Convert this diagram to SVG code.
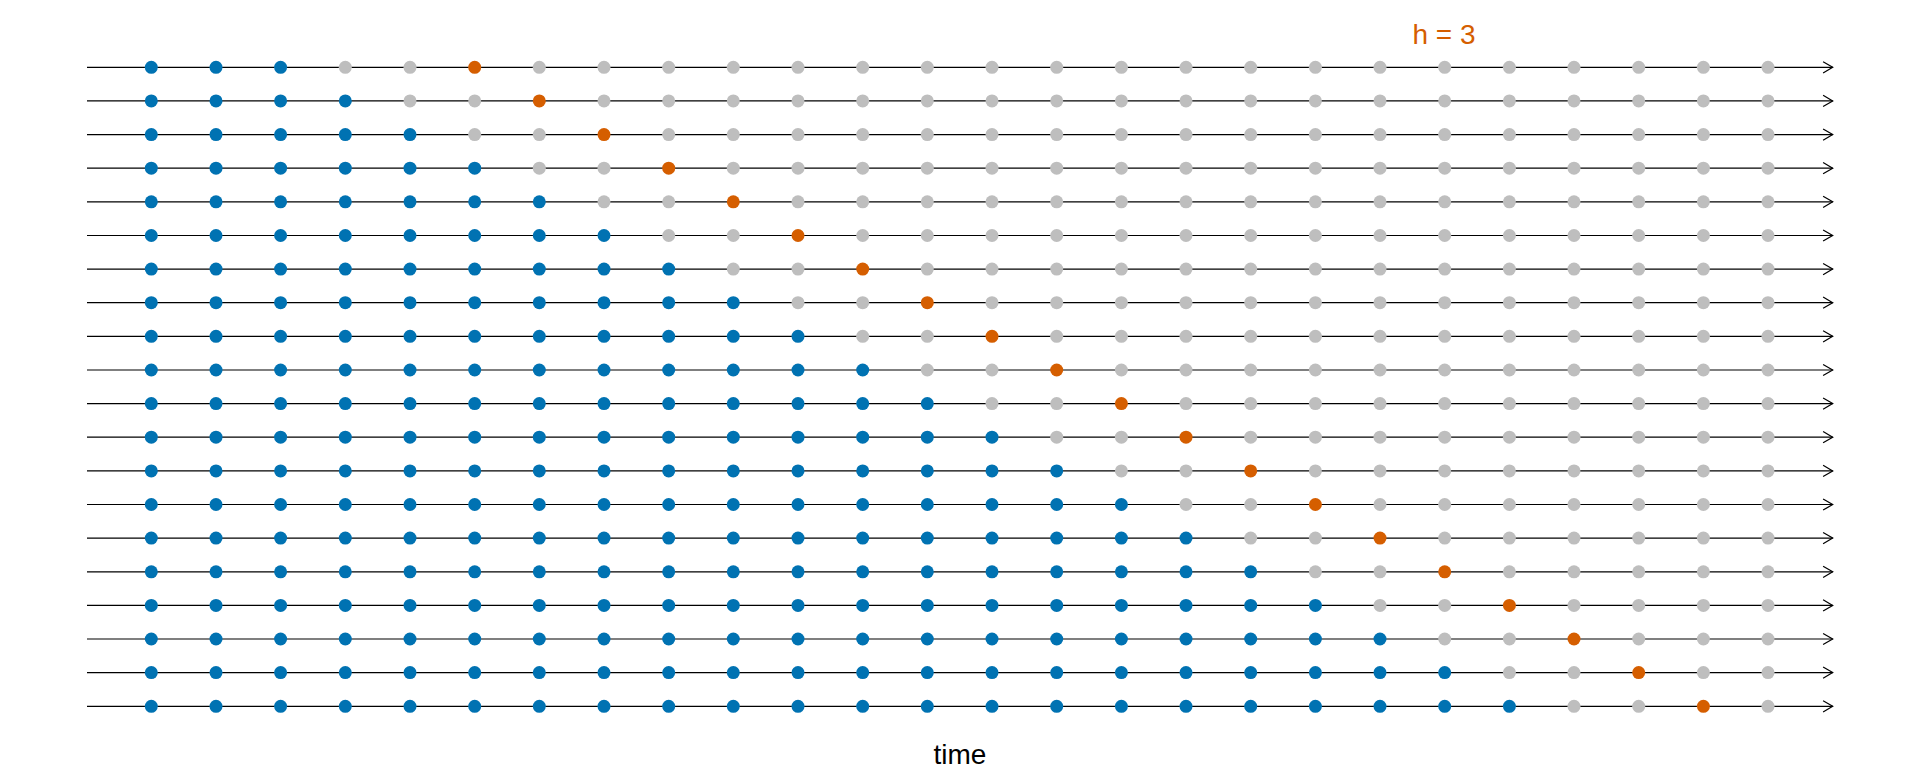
<svg xmlns="http://www.w3.org/2000/svg" width="1920" height="768" viewBox="0 0 1920 768">
<style>
.b{fill:#0072B2}
.g{fill:#BEBEBE}
.o{fill:#D55E00}
.ln{stroke:#000;stroke-width:1.2;fill:none;marker-end:url(#arr)}
.lbl{font-family:"Liberation Sans",Arial,sans-serif;font-size:28px;text-anchor:middle}
</style>
<defs>
<marker id="arr" markerUnits="userSpaceOnUse" markerWidth="14" markerHeight="16" viewBox="-12 -8 14 16" refX="0" refY="0" orient="auto">
<path d="M-9.6,-5.6 L0,0 L-9.6,5.6" fill="none" stroke="#000" stroke-width="1.2"/>
</marker>
</defs>
<rect width="1920" height="768" fill="#fff"/>
<g id="connectors">
<line class="ln" x1="87" y1="67.3" x2="1832.7" y2="67.3"/>
<line class="ln" x1="87" y1="100.9" x2="1832.7" y2="100.9"/>
<line class="ln" x1="87" y1="134.6" x2="1832.7" y2="134.6"/>
<line class="ln" x1="87" y1="168.2" x2="1832.7" y2="168.2"/>
<line class="ln" x1="87" y1="201.8" x2="1832.7" y2="201.8"/>
<line class="ln" x1="87" y1="235.5" x2="1832.7" y2="235.5"/>
<line class="ln" x1="87" y1="269.1" x2="1832.7" y2="269.1"/>
<line class="ln" x1="87" y1="302.7" x2="1832.7" y2="302.7"/>
<line class="ln" x1="87" y1="336.3" x2="1832.7" y2="336.3"/>
<line class="ln" x1="87" y1="370" x2="1832.7" y2="370"/>
<line class="ln" x1="87" y1="403.6" x2="1832.7" y2="403.6"/>
<line class="ln" x1="87" y1="437.2" x2="1832.7" y2="437.2"/>
<line class="ln" x1="87" y1="470.9" x2="1832.7" y2="470.9"/>
<line class="ln" x1="87" y1="504.5" x2="1832.7" y2="504.5"/>
<line class="ln" x1="87" y1="538.1" x2="1832.7" y2="538.1"/>
<line class="ln" x1="87" y1="571.8" x2="1832.7" y2="571.8"/>
<line class="ln" x1="87" y1="605.4" x2="1832.7" y2="605.4"/>
<line class="ln" x1="87" y1="639" x2="1832.7" y2="639"/>
<line class="ln" x1="87" y1="672.6" x2="1832.7" y2="672.6"/>
<line class="ln" x1="87" y1="706.3" x2="1832.7" y2="706.3"/>
</g>
<g id="row1" transform="translate(0,67.3)">
<circle class="b" cx="151.3" r="6.5"/><circle class="b" cx="216" r="6.5"/><circle class="b" cx="280.6" r="6.5"/><circle class="g" cx="345.3" r="6.5"/><circle class="g" cx="410" r="6.5"/><circle class="o" cx="474.7" r="6.5"/><circle class="g" cx="539.3" r="6.5"/><circle class="g" cx="604" r="6.5"/><circle class="g" cx="668.7" r="6.5"/><circle class="g" cx="733.3" r="6.5"/><circle class="g" cx="798" r="6.5"/><circle class="g" cx="862.7" r="6.5"/><circle class="g" cx="927.3" r="6.5"/><circle class="g" cx="992" r="6.5"/><circle class="g" cx="1056.7" r="6.5"/><circle class="g" cx="1121.4" r="6.5"/><circle class="g" cx="1186" r="6.5"/><circle class="g" cx="1250.7" r="6.5"/><circle class="g" cx="1315.4" r="6.5"/><circle class="g" cx="1380" r="6.5"/><circle class="g" cx="1444.7" r="6.5"/><circle class="g" cx="1509.4" r="6.5"/><circle class="g" cx="1574" r="6.5"/><circle class="g" cx="1638.7" r="6.5"/><circle class="g" cx="1703.4" r="6.5"/><circle class="g" cx="1768" r="6.5"/>
</g>
<g id="row2" transform="translate(0,100.9)">
<circle class="b" cx="151.3" r="6.5"/><circle class="b" cx="216" r="6.5"/><circle class="b" cx="280.6" r="6.5"/><circle class="b" cx="345.3" r="6.5"/><circle class="g" cx="410" r="6.5"/><circle class="g" cx="474.7" r="6.5"/><circle class="o" cx="539.3" r="6.5"/><circle class="g" cx="604" r="6.5"/><circle class="g" cx="668.7" r="6.5"/><circle class="g" cx="733.3" r="6.5"/><circle class="g" cx="798" r="6.5"/><circle class="g" cx="862.7" r="6.5"/><circle class="g" cx="927.3" r="6.5"/><circle class="g" cx="992" r="6.5"/><circle class="g" cx="1056.7" r="6.5"/><circle class="g" cx="1121.4" r="6.5"/><circle class="g" cx="1186" r="6.5"/><circle class="g" cx="1250.7" r="6.5"/><circle class="g" cx="1315.4" r="6.5"/><circle class="g" cx="1380" r="6.5"/><circle class="g" cx="1444.7" r="6.5"/><circle class="g" cx="1509.4" r="6.5"/><circle class="g" cx="1574" r="6.5"/><circle class="g" cx="1638.7" r="6.5"/><circle class="g" cx="1703.4" r="6.5"/><circle class="g" cx="1768" r="6.5"/>
</g>
<g id="row3" transform="translate(0,134.6)">
<circle class="b" cx="151.3" r="6.5"/><circle class="b" cx="216" r="6.5"/><circle class="b" cx="280.6" r="6.5"/><circle class="b" cx="345.3" r="6.5"/><circle class="b" cx="410" r="6.5"/><circle class="g" cx="474.7" r="6.5"/><circle class="g" cx="539.3" r="6.5"/><circle class="o" cx="604" r="6.5"/><circle class="g" cx="668.7" r="6.5"/><circle class="g" cx="733.3" r="6.5"/><circle class="g" cx="798" r="6.5"/><circle class="g" cx="862.7" r="6.5"/><circle class="g" cx="927.3" r="6.5"/><circle class="g" cx="992" r="6.5"/><circle class="g" cx="1056.7" r="6.5"/><circle class="g" cx="1121.4" r="6.5"/><circle class="g" cx="1186" r="6.5"/><circle class="g" cx="1250.7" r="6.5"/><circle class="g" cx="1315.4" r="6.5"/><circle class="g" cx="1380" r="6.5"/><circle class="g" cx="1444.7" r="6.5"/><circle class="g" cx="1509.4" r="6.5"/><circle class="g" cx="1574" r="6.5"/><circle class="g" cx="1638.7" r="6.5"/><circle class="g" cx="1703.4" r="6.5"/><circle class="g" cx="1768" r="6.5"/>
</g>
<g id="row4" transform="translate(0,168.2)">
<circle class="b" cx="151.3" r="6.5"/><circle class="b" cx="216" r="6.5"/><circle class="b" cx="280.6" r="6.5"/><circle class="b" cx="345.3" r="6.5"/><circle class="b" cx="410" r="6.5"/><circle class="b" cx="474.7" r="6.5"/><circle class="g" cx="539.3" r="6.5"/><circle class="g" cx="604" r="6.5"/><circle class="o" cx="668.7" r="6.5"/><circle class="g" cx="733.3" r="6.5"/><circle class="g" cx="798" r="6.5"/><circle class="g" cx="862.7" r="6.5"/><circle class="g" cx="927.3" r="6.5"/><circle class="g" cx="992" r="6.5"/><circle class="g" cx="1056.7" r="6.5"/><circle class="g" cx="1121.4" r="6.5"/><circle class="g" cx="1186" r="6.5"/><circle class="g" cx="1250.7" r="6.5"/><circle class="g" cx="1315.4" r="6.5"/><circle class="g" cx="1380" r="6.5"/><circle class="g" cx="1444.7" r="6.5"/><circle class="g" cx="1509.4" r="6.5"/><circle class="g" cx="1574" r="6.5"/><circle class="g" cx="1638.7" r="6.5"/><circle class="g" cx="1703.4" r="6.5"/><circle class="g" cx="1768" r="6.5"/>
</g>
<g id="row5" transform="translate(0,201.8)">
<circle class="b" cx="151.3" r="6.5"/><circle class="b" cx="216" r="6.5"/><circle class="b" cx="280.6" r="6.5"/><circle class="b" cx="345.3" r="6.5"/><circle class="b" cx="410" r="6.5"/><circle class="b" cx="474.7" r="6.5"/><circle class="b" cx="539.3" r="6.5"/><circle class="g" cx="604" r="6.5"/><circle class="g" cx="668.7" r="6.5"/><circle class="o" cx="733.3" r="6.5"/><circle class="g" cx="798" r="6.5"/><circle class="g" cx="862.7" r="6.5"/><circle class="g" cx="927.3" r="6.5"/><circle class="g" cx="992" r="6.5"/><circle class="g" cx="1056.7" r="6.5"/><circle class="g" cx="1121.4" r="6.5"/><circle class="g" cx="1186" r="6.5"/><circle class="g" cx="1250.7" r="6.5"/><circle class="g" cx="1315.4" r="6.5"/><circle class="g" cx="1380" r="6.5"/><circle class="g" cx="1444.7" r="6.5"/><circle class="g" cx="1509.4" r="6.5"/><circle class="g" cx="1574" r="6.5"/><circle class="g" cx="1638.7" r="6.5"/><circle class="g" cx="1703.4" r="6.5"/><circle class="g" cx="1768" r="6.5"/>
</g>
<g id="row6" transform="translate(0,235.5)">
<circle class="b" cx="151.3" r="6.5"/><circle class="b" cx="216" r="6.5"/><circle class="b" cx="280.6" r="6.5"/><circle class="b" cx="345.3" r="6.5"/><circle class="b" cx="410" r="6.5"/><circle class="b" cx="474.7" r="6.5"/><circle class="b" cx="539.3" r="6.5"/><circle class="b" cx="604" r="6.5"/><circle class="g" cx="668.7" r="6.5"/><circle class="g" cx="733.3" r="6.5"/><circle class="o" cx="798" r="6.5"/><circle class="g" cx="862.7" r="6.5"/><circle class="g" cx="927.3" r="6.5"/><circle class="g" cx="992" r="6.5"/><circle class="g" cx="1056.7" r="6.5"/><circle class="g" cx="1121.4" r="6.5"/><circle class="g" cx="1186" r="6.5"/><circle class="g" cx="1250.7" r="6.5"/><circle class="g" cx="1315.4" r="6.5"/><circle class="g" cx="1380" r="6.5"/><circle class="g" cx="1444.7" r="6.5"/><circle class="g" cx="1509.4" r="6.5"/><circle class="g" cx="1574" r="6.5"/><circle class="g" cx="1638.7" r="6.5"/><circle class="g" cx="1703.4" r="6.5"/><circle class="g" cx="1768" r="6.5"/>
</g>
<g id="row7" transform="translate(0,269.1)">
<circle class="b" cx="151.3" r="6.5"/><circle class="b" cx="216" r="6.5"/><circle class="b" cx="280.6" r="6.5"/><circle class="b" cx="345.3" r="6.5"/><circle class="b" cx="410" r="6.5"/><circle class="b" cx="474.7" r="6.5"/><circle class="b" cx="539.3" r="6.5"/><circle class="b" cx="604" r="6.5"/><circle class="b" cx="668.7" r="6.5"/><circle class="g" cx="733.3" r="6.5"/><circle class="g" cx="798" r="6.5"/><circle class="o" cx="862.7" r="6.5"/><circle class="g" cx="927.3" r="6.5"/><circle class="g" cx="992" r="6.5"/><circle class="g" cx="1056.7" r="6.5"/><circle class="g" cx="1121.4" r="6.5"/><circle class="g" cx="1186" r="6.5"/><circle class="g" cx="1250.7" r="6.5"/><circle class="g" cx="1315.4" r="6.5"/><circle class="g" cx="1380" r="6.5"/><circle class="g" cx="1444.7" r="6.5"/><circle class="g" cx="1509.4" r="6.5"/><circle class="g" cx="1574" r="6.5"/><circle class="g" cx="1638.7" r="6.5"/><circle class="g" cx="1703.4" r="6.5"/><circle class="g" cx="1768" r="6.5"/>
</g>
<g id="row8" transform="translate(0,302.7)">
<circle class="b" cx="151.3" r="6.5"/><circle class="b" cx="216" r="6.5"/><circle class="b" cx="280.6" r="6.5"/><circle class="b" cx="345.3" r="6.5"/><circle class="b" cx="410" r="6.5"/><circle class="b" cx="474.7" r="6.5"/><circle class="b" cx="539.3" r="6.5"/><circle class="b" cx="604" r="6.5"/><circle class="b" cx="668.7" r="6.5"/><circle class="b" cx="733.3" r="6.5"/><circle class="g" cx="798" r="6.5"/><circle class="g" cx="862.7" r="6.5"/><circle class="o" cx="927.3" r="6.5"/><circle class="g" cx="992" r="6.5"/><circle class="g" cx="1056.7" r="6.5"/><circle class="g" cx="1121.4" r="6.5"/><circle class="g" cx="1186" r="6.5"/><circle class="g" cx="1250.7" r="6.5"/><circle class="g" cx="1315.4" r="6.5"/><circle class="g" cx="1380" r="6.5"/><circle class="g" cx="1444.7" r="6.5"/><circle class="g" cx="1509.4" r="6.5"/><circle class="g" cx="1574" r="6.5"/><circle class="g" cx="1638.7" r="6.5"/><circle class="g" cx="1703.4" r="6.5"/><circle class="g" cx="1768" r="6.5"/>
</g>
<g id="row9" transform="translate(0,336.3)">
<circle class="b" cx="151.3" r="6.5"/><circle class="b" cx="216" r="6.5"/><circle class="b" cx="280.6" r="6.5"/><circle class="b" cx="345.3" r="6.5"/><circle class="b" cx="410" r="6.5"/><circle class="b" cx="474.7" r="6.5"/><circle class="b" cx="539.3" r="6.5"/><circle class="b" cx="604" r="6.5"/><circle class="b" cx="668.7" r="6.5"/><circle class="b" cx="733.3" r="6.5"/><circle class="b" cx="798" r="6.5"/><circle class="g" cx="862.7" r="6.5"/><circle class="g" cx="927.3" r="6.5"/><circle class="o" cx="992" r="6.5"/><circle class="g" cx="1056.7" r="6.5"/><circle class="g" cx="1121.4" r="6.5"/><circle class="g" cx="1186" r="6.5"/><circle class="g" cx="1250.7" r="6.5"/><circle class="g" cx="1315.4" r="6.5"/><circle class="g" cx="1380" r="6.5"/><circle class="g" cx="1444.7" r="6.5"/><circle class="g" cx="1509.4" r="6.5"/><circle class="g" cx="1574" r="6.5"/><circle class="g" cx="1638.7" r="6.5"/><circle class="g" cx="1703.4" r="6.5"/><circle class="g" cx="1768" r="6.5"/>
</g>
<g id="row10" transform="translate(0,370)">
<circle class="b" cx="151.3" r="6.5"/><circle class="b" cx="216" r="6.5"/><circle class="b" cx="280.6" r="6.5"/><circle class="b" cx="345.3" r="6.5"/><circle class="b" cx="410" r="6.5"/><circle class="b" cx="474.7" r="6.5"/><circle class="b" cx="539.3" r="6.5"/><circle class="b" cx="604" r="6.5"/><circle class="b" cx="668.7" r="6.5"/><circle class="b" cx="733.3" r="6.5"/><circle class="b" cx="798" r="6.5"/><circle class="b" cx="862.7" r="6.5"/><circle class="g" cx="927.3" r="6.5"/><circle class="g" cx="992" r="6.5"/><circle class="o" cx="1056.7" r="6.5"/><circle class="g" cx="1121.4" r="6.5"/><circle class="g" cx="1186" r="6.5"/><circle class="g" cx="1250.7" r="6.5"/><circle class="g" cx="1315.4" r="6.5"/><circle class="g" cx="1380" r="6.5"/><circle class="g" cx="1444.7" r="6.5"/><circle class="g" cx="1509.4" r="6.5"/><circle class="g" cx="1574" r="6.5"/><circle class="g" cx="1638.7" r="6.5"/><circle class="g" cx="1703.4" r="6.5"/><circle class="g" cx="1768" r="6.5"/>
</g>
<g id="row11" transform="translate(0,403.6)">
<circle class="b" cx="151.3" r="6.5"/><circle class="b" cx="216" r="6.5"/><circle class="b" cx="280.6" r="6.5"/><circle class="b" cx="345.3" r="6.5"/><circle class="b" cx="410" r="6.5"/><circle class="b" cx="474.7" r="6.5"/><circle class="b" cx="539.3" r="6.5"/><circle class="b" cx="604" r="6.5"/><circle class="b" cx="668.7" r="6.5"/><circle class="b" cx="733.3" r="6.5"/><circle class="b" cx="798" r="6.5"/><circle class="b" cx="862.7" r="6.5"/><circle class="b" cx="927.3" r="6.5"/><circle class="g" cx="992" r="6.5"/><circle class="g" cx="1056.7" r="6.5"/><circle class="o" cx="1121.4" r="6.5"/><circle class="g" cx="1186" r="6.5"/><circle class="g" cx="1250.7" r="6.5"/><circle class="g" cx="1315.4" r="6.5"/><circle class="g" cx="1380" r="6.5"/><circle class="g" cx="1444.7" r="6.5"/><circle class="g" cx="1509.4" r="6.5"/><circle class="g" cx="1574" r="6.5"/><circle class="g" cx="1638.7" r="6.5"/><circle class="g" cx="1703.4" r="6.5"/><circle class="g" cx="1768" r="6.5"/>
</g>
<g id="row12" transform="translate(0,437.2)">
<circle class="b" cx="151.3" r="6.5"/><circle class="b" cx="216" r="6.5"/><circle class="b" cx="280.6" r="6.5"/><circle class="b" cx="345.3" r="6.5"/><circle class="b" cx="410" r="6.5"/><circle class="b" cx="474.7" r="6.5"/><circle class="b" cx="539.3" r="6.5"/><circle class="b" cx="604" r="6.5"/><circle class="b" cx="668.7" r="6.5"/><circle class="b" cx="733.3" r="6.5"/><circle class="b" cx="798" r="6.5"/><circle class="b" cx="862.7" r="6.5"/><circle class="b" cx="927.3" r="6.5"/><circle class="b" cx="992" r="6.5"/><circle class="g" cx="1056.7" r="6.5"/><circle class="g" cx="1121.4" r="6.5"/><circle class="o" cx="1186" r="6.5"/><circle class="g" cx="1250.7" r="6.5"/><circle class="g" cx="1315.4" r="6.5"/><circle class="g" cx="1380" r="6.5"/><circle class="g" cx="1444.7" r="6.5"/><circle class="g" cx="1509.4" r="6.5"/><circle class="g" cx="1574" r="6.5"/><circle class="g" cx="1638.7" r="6.5"/><circle class="g" cx="1703.4" r="6.5"/><circle class="g" cx="1768" r="6.5"/>
</g>
<g id="row13" transform="translate(0,470.9)">
<circle class="b" cx="151.3" r="6.5"/><circle class="b" cx="216" r="6.5"/><circle class="b" cx="280.6" r="6.5"/><circle class="b" cx="345.3" r="6.5"/><circle class="b" cx="410" r="6.5"/><circle class="b" cx="474.7" r="6.5"/><circle class="b" cx="539.3" r="6.5"/><circle class="b" cx="604" r="6.5"/><circle class="b" cx="668.7" r="6.5"/><circle class="b" cx="733.3" r="6.5"/><circle class="b" cx="798" r="6.5"/><circle class="b" cx="862.7" r="6.5"/><circle class="b" cx="927.3" r="6.5"/><circle class="b" cx="992" r="6.5"/><circle class="b" cx="1056.7" r="6.5"/><circle class="g" cx="1121.4" r="6.5"/><circle class="g" cx="1186" r="6.5"/><circle class="o" cx="1250.7" r="6.5"/><circle class="g" cx="1315.4" r="6.5"/><circle class="g" cx="1380" r="6.5"/><circle class="g" cx="1444.7" r="6.5"/><circle class="g" cx="1509.4" r="6.5"/><circle class="g" cx="1574" r="6.5"/><circle class="g" cx="1638.7" r="6.5"/><circle class="g" cx="1703.4" r="6.5"/><circle class="g" cx="1768" r="6.5"/>
</g>
<g id="row14" transform="translate(0,504.5)">
<circle class="b" cx="151.3" r="6.5"/><circle class="b" cx="216" r="6.5"/><circle class="b" cx="280.6" r="6.5"/><circle class="b" cx="345.3" r="6.5"/><circle class="b" cx="410" r="6.5"/><circle class="b" cx="474.7" r="6.5"/><circle class="b" cx="539.3" r="6.5"/><circle class="b" cx="604" r="6.5"/><circle class="b" cx="668.7" r="6.5"/><circle class="b" cx="733.3" r="6.5"/><circle class="b" cx="798" r="6.5"/><circle class="b" cx="862.7" r="6.5"/><circle class="b" cx="927.3" r="6.5"/><circle class="b" cx="992" r="6.5"/><circle class="b" cx="1056.7" r="6.5"/><circle class="b" cx="1121.4" r="6.5"/><circle class="g" cx="1186" r="6.5"/><circle class="g" cx="1250.7" r="6.5"/><circle class="o" cx="1315.4" r="6.5"/><circle class="g" cx="1380" r="6.5"/><circle class="g" cx="1444.7" r="6.5"/><circle class="g" cx="1509.4" r="6.5"/><circle class="g" cx="1574" r="6.5"/><circle class="g" cx="1638.7" r="6.5"/><circle class="g" cx="1703.4" r="6.5"/><circle class="g" cx="1768" r="6.5"/>
</g>
<g id="row15" transform="translate(0,538.1)">
<circle class="b" cx="151.3" r="6.5"/><circle class="b" cx="216" r="6.5"/><circle class="b" cx="280.6" r="6.5"/><circle class="b" cx="345.3" r="6.5"/><circle class="b" cx="410" r="6.5"/><circle class="b" cx="474.7" r="6.5"/><circle class="b" cx="539.3" r="6.5"/><circle class="b" cx="604" r="6.5"/><circle class="b" cx="668.7" r="6.5"/><circle class="b" cx="733.3" r="6.5"/><circle class="b" cx="798" r="6.5"/><circle class="b" cx="862.7" r="6.5"/><circle class="b" cx="927.3" r="6.5"/><circle class="b" cx="992" r="6.5"/><circle class="b" cx="1056.7" r="6.5"/><circle class="b" cx="1121.4" r="6.5"/><circle class="b" cx="1186" r="6.5"/><circle class="g" cx="1250.7" r="6.5"/><circle class="g" cx="1315.4" r="6.5"/><circle class="o" cx="1380" r="6.5"/><circle class="g" cx="1444.7" r="6.5"/><circle class="g" cx="1509.4" r="6.5"/><circle class="g" cx="1574" r="6.5"/><circle class="g" cx="1638.7" r="6.5"/><circle class="g" cx="1703.4" r="6.5"/><circle class="g" cx="1768" r="6.5"/>
</g>
<g id="row16" transform="translate(0,571.8)">
<circle class="b" cx="151.3" r="6.5"/><circle class="b" cx="216" r="6.5"/><circle class="b" cx="280.6" r="6.5"/><circle class="b" cx="345.3" r="6.5"/><circle class="b" cx="410" r="6.5"/><circle class="b" cx="474.7" r="6.5"/><circle class="b" cx="539.3" r="6.5"/><circle class="b" cx="604" r="6.5"/><circle class="b" cx="668.7" r="6.5"/><circle class="b" cx="733.3" r="6.5"/><circle class="b" cx="798" r="6.5"/><circle class="b" cx="862.7" r="6.5"/><circle class="b" cx="927.3" r="6.5"/><circle class="b" cx="992" r="6.5"/><circle class="b" cx="1056.7" r="6.5"/><circle class="b" cx="1121.4" r="6.5"/><circle class="b" cx="1186" r="6.5"/><circle class="b" cx="1250.7" r="6.5"/><circle class="g" cx="1315.4" r="6.5"/><circle class="g" cx="1380" r="6.5"/><circle class="o" cx="1444.7" r="6.5"/><circle class="g" cx="1509.4" r="6.5"/><circle class="g" cx="1574" r="6.5"/><circle class="g" cx="1638.7" r="6.5"/><circle class="g" cx="1703.4" r="6.5"/><circle class="g" cx="1768" r="6.5"/>
</g>
<g id="row17" transform="translate(0,605.4)">
<circle class="b" cx="151.3" r="6.5"/><circle class="b" cx="216" r="6.5"/><circle class="b" cx="280.6" r="6.5"/><circle class="b" cx="345.3" r="6.5"/><circle class="b" cx="410" r="6.5"/><circle class="b" cx="474.7" r="6.5"/><circle class="b" cx="539.3" r="6.5"/><circle class="b" cx="604" r="6.5"/><circle class="b" cx="668.7" r="6.5"/><circle class="b" cx="733.3" r="6.5"/><circle class="b" cx="798" r="6.5"/><circle class="b" cx="862.7" r="6.5"/><circle class="b" cx="927.3" r="6.5"/><circle class="b" cx="992" r="6.5"/><circle class="b" cx="1056.7" r="6.5"/><circle class="b" cx="1121.4" r="6.5"/><circle class="b" cx="1186" r="6.5"/><circle class="b" cx="1250.7" r="6.5"/><circle class="b" cx="1315.4" r="6.5"/><circle class="g" cx="1380" r="6.5"/><circle class="g" cx="1444.7" r="6.5"/><circle class="o" cx="1509.4" r="6.5"/><circle class="g" cx="1574" r="6.5"/><circle class="g" cx="1638.7" r="6.5"/><circle class="g" cx="1703.4" r="6.5"/><circle class="g" cx="1768" r="6.5"/>
</g>
<g id="row18" transform="translate(0,639)">
<circle class="b" cx="151.3" r="6.5"/><circle class="b" cx="216" r="6.5"/><circle class="b" cx="280.6" r="6.5"/><circle class="b" cx="345.3" r="6.5"/><circle class="b" cx="410" r="6.5"/><circle class="b" cx="474.7" r="6.5"/><circle class="b" cx="539.3" r="6.5"/><circle class="b" cx="604" r="6.5"/><circle class="b" cx="668.7" r="6.5"/><circle class="b" cx="733.3" r="6.5"/><circle class="b" cx="798" r="6.5"/><circle class="b" cx="862.7" r="6.5"/><circle class="b" cx="927.3" r="6.5"/><circle class="b" cx="992" r="6.5"/><circle class="b" cx="1056.7" r="6.5"/><circle class="b" cx="1121.4" r="6.5"/><circle class="b" cx="1186" r="6.5"/><circle class="b" cx="1250.7" r="6.5"/><circle class="b" cx="1315.4" r="6.5"/><circle class="b" cx="1380" r="6.5"/><circle class="g" cx="1444.7" r="6.5"/><circle class="g" cx="1509.4" r="6.5"/><circle class="o" cx="1574" r="6.5"/><circle class="g" cx="1638.7" r="6.5"/><circle class="g" cx="1703.4" r="6.5"/><circle class="g" cx="1768" r="6.5"/>
</g>
<g id="row19" transform="translate(0,672.6)">
<circle class="b" cx="151.3" r="6.5"/><circle class="b" cx="216" r="6.5"/><circle class="b" cx="280.6" r="6.5"/><circle class="b" cx="345.3" r="6.5"/><circle class="b" cx="410" r="6.5"/><circle class="b" cx="474.7" r="6.5"/><circle class="b" cx="539.3" r="6.5"/><circle class="b" cx="604" r="6.5"/><circle class="b" cx="668.7" r="6.5"/><circle class="b" cx="733.3" r="6.5"/><circle class="b" cx="798" r="6.5"/><circle class="b" cx="862.7" r="6.5"/><circle class="b" cx="927.3" r="6.5"/><circle class="b" cx="992" r="6.5"/><circle class="b" cx="1056.7" r="6.5"/><circle class="b" cx="1121.4" r="6.5"/><circle class="b" cx="1186" r="6.5"/><circle class="b" cx="1250.7" r="6.5"/><circle class="b" cx="1315.4" r="6.5"/><circle class="b" cx="1380" r="6.5"/><circle class="b" cx="1444.7" r="6.5"/><circle class="g" cx="1509.4" r="6.5"/><circle class="g" cx="1574" r="6.5"/><circle class="o" cx="1638.7" r="6.5"/><circle class="g" cx="1703.4" r="6.5"/><circle class="g" cx="1768" r="6.5"/>
</g>
<g id="row20" transform="translate(0,706.3)">
<circle class="b" cx="151.3" r="6.5"/><circle class="b" cx="216" r="6.5"/><circle class="b" cx="280.6" r="6.5"/><circle class="b" cx="345.3" r="6.5"/><circle class="b" cx="410" r="6.5"/><circle class="b" cx="474.7" r="6.5"/><circle class="b" cx="539.3" r="6.5"/><circle class="b" cx="604" r="6.5"/><circle class="b" cx="668.7" r="6.5"/><circle class="b" cx="733.3" r="6.5"/><circle class="b" cx="798" r="6.5"/><circle class="b" cx="862.7" r="6.5"/><circle class="b" cx="927.3" r="6.5"/><circle class="b" cx="992" r="6.5"/><circle class="b" cx="1056.7" r="6.5"/><circle class="b" cx="1121.4" r="6.5"/><circle class="b" cx="1186" r="6.5"/><circle class="b" cx="1250.7" r="6.5"/><circle class="b" cx="1315.4" r="6.5"/><circle class="b" cx="1380" r="6.5"/><circle class="b" cx="1444.7" r="6.5"/><circle class="b" cx="1509.4" r="6.5"/><circle class="g" cx="1574" r="6.5"/><circle class="g" cx="1638.7" r="6.5"/><circle class="o" cx="1703.4" r="6.5"/><circle class="g" cx="1768" r="6.5"/>
</g>
<g id="label-h">
<text class="lbl" x="1444" y="44.3" fill="#D55E00">h = 3</text>
</g>
<g id="label-time">
<text class="lbl" x="960" y="764" fill="#000">time</text>
</g>
</svg>
